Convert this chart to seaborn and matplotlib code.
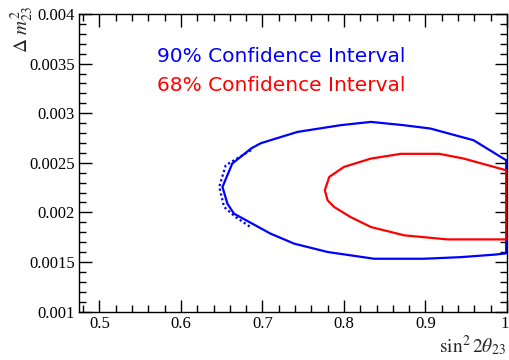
import numpy as np
import pandas as pd
import matplotlib
matplotlib.use("Agg")
import matplotlib.pyplot as plt
import matplotlib.transforms as mtransforms
from matplotlib.ticker import MultipleLocator, FuncFormatter
import seaborn as sns

# ---- data ----
c90_x = [0.999, 0.959, 0.906, 0.873, 0.833, 0.796, 0.743, 0.698, 0.686, 0.663,
         0.651, 0.657, 0.665, 0.710, 0.739, 0.780, 0.837, 0.898, 0.943, 0.984,
         0.999, 0.999]
c90_y = [0.002525, 0.002727, 0.002845, 0.002879, 0.002912, 0.002879, 0.002811,
         0.002697, 0.002643, 0.002492, 0.002256, 0.002088, 0.001987, 0.001785,
         0.001684, 0.001600, 0.001532, 0.001532, 0.001548, 0.001573, 0.001586,
         0.002525]

c90d_x = [0.686, 0.655, 0.647, 0.653, 0.667, 0.686]
c90d_y = [0.002626, 0.002475, 0.002256, 0.002054, 0.001953, 0.001848]

c68_x = [0.999, 0.947, 0.917, 0.870, 0.833, 0.800, 0.782, 0.7765, 0.780, 0.788,
         0.808, 0.833, 0.874, 0.927, 0.999, 0.999]
c68_y = [0.002424, 0.002542, 0.002590, 0.002590, 0.002542, 0.002458, 0.002357,
         0.002222, 0.002121, 0.002054, 0.001953, 0.001852, 0.001768, 0.001727,
         0.001727, 0.002424]

xticks = [0.5, 0.6, 0.7, 0.8, 0.9, 1.0]
yticks = [0.001, 0.0015, 0.002, 0.0025, 0.003, 0.0035, 0.004]
label90 = "90% Confidence Interval"
label68 = "68% Confidence Interval"

sns.set_style("ticks")
plt.rcParams["mathtext.fontset"] = "stix"
plt.rcParams["font.family"] = ["Liberation Serif", "DejaVu Serif"]

fig = plt.figure(figsize=(5.09, 3.60), dpi=100)
ax = fig.add_axes([79 / 509, 1 - 311.5 / 360, (507 - 79) / 509, (311.5 - 14) / 360])

df90 = pd.DataFrame({"x": c90_x, "y": c90_y, "i": range(len(c90_x))})
df90d = pd.DataFrame({"x": c90d_x, "y": c90d_y, "i": range(len(c90d_x))})
df68 = pd.DataFrame({"x": c68_x, "y": c68_y, "i": range(len(c68_x))})

sns.lineplot(data=df90d, x="x", y="y", sort=False, estimator=None, ax=ax,
             color="#0000ff", lw=1.6, linestyle=(0, (1, 1.2)))
sns.lineplot(data=df90, x="x", y="y", sort=False, estimator=None, ax=ax,
             color="#0000ff", lw=1.6)
sns.lineplot(data=df68, x="x", y="y", sort=False, estimator=None, ax=ax,
             color="#ff0000", lw=1.6)

ax.set_xlim(0.475, 1.0)
ax.set_ylim(0.001, 0.004)
ax.set_xticks(xticks)
ax.set_yticks(yticks)
ax.xaxis.set_minor_locator(MultipleLocator(0.02))
ax.yaxis.set_minor_locator(MultipleLocator(0.0001))
ax.xaxis.set_major_formatter(FuncFormatter(lambda v, p: "1" if abs(v - 1) < 1e-9 else f"{v:g}"))
ax.yaxis.set_major_formatter(FuncFormatter(lambda v, p: f"{v:g}"))
ax.tick_params(which="both", direction="in", top=True, right=True,
               labelsize=12, colors="black", pad=3)
ax.tick_params(which="major", length=9, width=1)
ax.tick_params(which="minor", length=5, width=1)
for s in ax.spines.values():
    s.set_linewidth(1.0)
    s.set_color("black")

# nudge the last x tick label ("1") so it stays inside the canvas
fig.canvas.draw()
last = ax.get_xticklabels()[-1]
last.set_transform(last.get_transform() +
                   mtransforms.ScaledTranslation(-2.5 / 100, 0, fig.dpi_scale_trans))

ax.set_xlabel("")
ax.set_ylabel("")
fig.text(506 / 509, 1 - 358 / 360, r"$\sin^{2}2\theta_{23}$", ha="right", va="bottom",
         fontsize=14)
fig.text(8 / 509, 1 - 6 / 360, r"$\Delta\ m^{2}_{23}$", ha="left", va="top",
         rotation=90, fontsize=14)

ax.text(157 / 509, 1 - 62 / 360, label90, transform=fig.transFigure, color="#0000ff",
        fontsize=14.5, family=["DejaVu Sans"], ha="left", va="baseline")
ax.text(157 / 509, 1 - 91 / 360, label68, transform=fig.transFigure, color="#ff0000",
        fontsize=14.5, family=["DejaVu Sans"], ha="left", va="baseline")

fig.savefig("out.png", dpi=100)
